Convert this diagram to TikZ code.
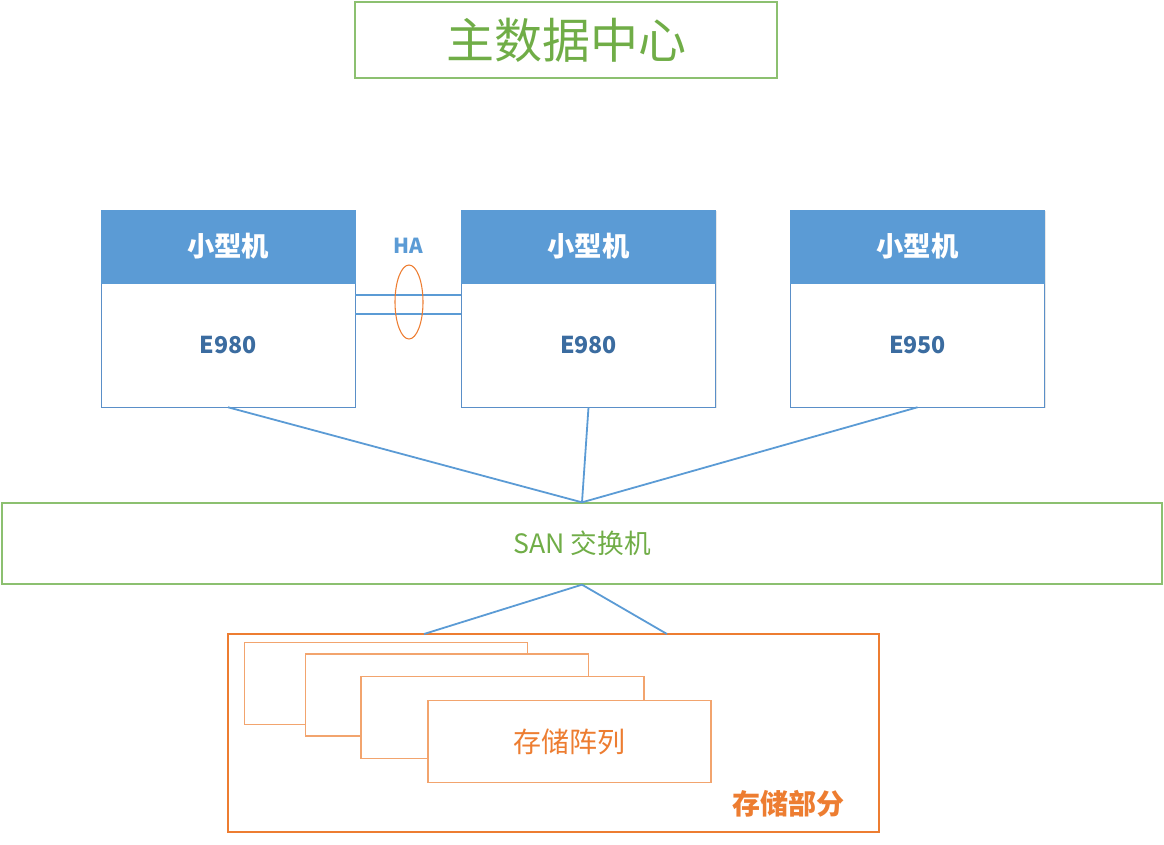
\documentclass[tikz,border=0pt]{standalone}
\usepackage{fontspec}
\setmainfont{Noto Sans CJK SC}
\usetikzlibrary{shapes.geometric,shadows}
\definecolor{hdrblue}{HTML}{5B9BD5}
\definecolor{edgeblue}{HTML}{5A8FC8}
\definecolor{txtblue}{HTML}{3B6CA0}
\definecolor{grn}{HTML}{70AD47}
\definecolor{grnedge}{HTML}{8CC070}
\definecolor{org}{HTML}{ED7D31}
\definecolor{orglt}{HTML}{F2A46E}
\tikzset{
  softshadow/.style={drop shadow={opacity=0.18, shadow xshift=1pt, shadow yshift=-1pt}},
  hdr/.style={draw=hdrblue, fill=hdrblue, minimum width=254*0.75pt, minimum height=73*0.75pt, inner sep=0pt, text=white, font=\fontsize{20.5}{22}\selectfont\bfseries},
  bodybox/.style={draw=edgeblue, fill=white, minimum width=254*0.75pt, minimum height=124*0.75pt, inner sep=0pt, text=txtblue, font=\fontsize{17.4}{19}\selectfont\bfseries},
  link/.style={draw=hdrblue, line width=1.35pt},
  stackbox/.style={draw=orglt, fill=white, line width=1pt, minimum width=283*0.75pt, minimum height=82*0.75pt, inner sep=0pt}
}
\begin{document}
\begin{tikzpicture}[x=0.75pt,y=-0.75pt]
\useasboundingbox (0,0) rectangle (1164,844);
% title
\node[draw=grnedge, line width=1pt, minimum width=422*0.75pt, minimum height=76*0.75pt, inner sep=0pt, text=grn, font=\fontsize{36}{40}\selectfont] (title) at (566,40) {主数据中心};
% servers
\node[bodybox, softshadow] (b1) at (228,345) {E980};
\node[hdr, softshadow] (h1) at (228,246.5) {小型机};
\node[bodybox, softshadow] (b2) at (588.5,345) {E980};
\node[hdr, softshadow] (h2) at (588.5,246.5) {小型机};
\node[bodybox, softshadow] (b3) at (917.5,345) {E950};
\node[hdr, softshadow] (h3) at (917.5,246.5) {小型机};
% HA
\coordinate (ya) at (0,295);
\coordinate (yb) at (0,314);
\draw[link, line width=1.1pt] (b1.east |- ya) -- (b2.west |- ya);
\draw[link, line width=1.1pt] (b1.east |- yb) -- (b2.west |- yb);
\node[ellipse, draw=org, line width=0.8pt, minimum width=28*0.75pt, minimum height=74*0.75pt, inner sep=0pt] (haring) at (409,302) {};
\node[text=hdrblue, font=\fontsize{15.5}{17}\selectfont\bfseries] (ha) at (408,246) {HA};
% SAN switch
\node[draw=grnedge, line width=1pt, minimum width=1160*0.75pt, minimum height=81*0.75pt, inner sep=0pt, text=grn, font=\fontsize{20}{22}\selectfont] (san) at (582,543.5) {SAN 交换机};
\draw[link] (b1.south) -- (san.north);
\draw[link] (b2.south) -- (san.north);
\draw[link] (b3.south) -- (san.north);
% storage
\node[draw=org, line width=1pt, minimum width=651*0.75pt, minimum height=198*0.75pt, inner sep=0pt] (store) at (553.5,733) {};
\coordinate (s1) at (424,634);
\coordinate (s2) at (667,634);
\draw[link] (san.south) -- (s1);
\draw[link] (san.south) -- (s2);
\node[stackbox] (r1) at (386,683.5) {};
\node[stackbox] (r2) at (447,695) {};
\node[stackbox] (r3) at (502.5,717.5) {};
\node[stackbox, text=org, font=\fontsize{21}{23}\selectfont] (r4) at (569.5,741.5) {存储阵列};
\node[text=org, font=\fontsize{21}{23}\selectfont\bfseries] (storelbl) at (788,804) {存储部分};
\end{tikzpicture}
\end{document}
